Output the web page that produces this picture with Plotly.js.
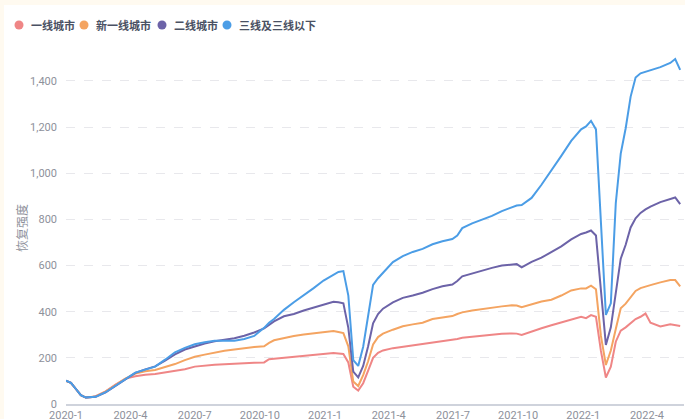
<!DOCTYPE html>
<html>
<head>
<meta charset="utf-8">
<script src="https://cdn.plot.ly/plotly-3.0.1.min.js"></script>
<style>
  html, body { margin: 0; padding: 0; background: #ffffff; }
  #chart { width: 685px; height: 419px; }
</style>
</head>
<body>
<div id="chart"></div>
<script>
// Weekly dates
var dates = [
  '2020-01-01','2020-01-08','2020-01-15','2020-01-22','2020-01-29','2020-02-05','2020-02-12','2020-02-26',
  '2020-03-11','2020-03-25','2020-04-08','2020-04-22','2020-05-06','2020-05-20','2020-06-03','2020-06-17',
  '2020-07-01','2020-07-15','2020-07-29','2020-08-12','2020-08-26','2020-09-09','2020-09-23','2020-10-07',
  '2020-10-14','2020-10-21','2020-11-04','2020-11-18','2020-12-02','2020-12-16','2020-12-30','2021-01-13',
  '2021-01-20','2021-01-27','2021-02-03','2021-02-10','2021-02-17','2021-02-24','2021-03-03','2021-03-10',
  '2021-03-17','2021-03-24','2021-04-07','2021-04-21','2021-05-05','2021-05-19','2021-06-02','2021-06-16',
  '2021-06-30','2021-07-07','2021-07-14','2021-07-28','2021-08-11','2021-08-25','2021-09-08','2021-09-22',
  '2021-09-29','2021-10-06','2021-10-20','2021-11-03','2021-11-17','2021-12-01','2021-12-15','2021-12-29',
  '2022-01-05','2022-01-12','2022-01-19','2022-01-26','2022-02-02','2022-02-09','2022-02-16','2022-02-23',
  '2022-03-02','2022-03-09','2022-03-16','2022-03-23','2022-03-30','2022-04-06','2022-04-20','2022-05-04',
  '2022-05-11','2022-05-18'
];

var seriesNames = ['一线城市', '新一线城市', '二线城市', '三线及三线以下'];

var tier1 = [
  100,92,65,38,28,29,34,55, 84,110,120,127,130,137,145,151,
  162,167,170,172,175,178,179,180, 194,196,200,205,210,214,218,221,
  219,217,180,75,58,90,145,200, 222,232,242,248,254,259,267,272,
  279,282,287,292,297,301,304,306, 305,299,315,328,341,354,366,378,
  372,385,378,230,115,162,270,318, 332,350,368,378,392,352,336,345,
  342,338
];

var newTier1 = [
  100,92,65,38,28,29,33,54, 83,110,132,142,147,160,173,190,
  205,214,224,231,236,243,247,250, 265,276,287,295,301,306,312,316,
  312,307,250,97,78,125,185,258, 290,305,322,337,345,352,368,374,
  381,390,397,405,412,418,423,428, 427,419,432,444,452,470,492,501,
  501,513,497,295,169,232,325,415, 435,465,490,502,510,515,527,537,
  537,510
];

var tier2 = [
  101,92,65,38,28,28,31,50, 78,106,135,150,163,188,215,236,
  250,262,272,278,285,296,310,328, 342,358,380,390,405,418,432,443,
  441,436,330,140,115,165,250,350, 390,413,440,460,470,482,498,510,
  518,533,553,566,576,590,600,605, 606,592,616,634,658,683,713,737,
  743,752,730,480,256,332,485,630, 690,765,805,828,843,855,875,888,
  895,866
];

var tier3 = [
  101,92,65,38,28,28,31,51, 80,108,136,149,162,192,224,243,
  259,268,274,274,274,282,295,330, 352,368,408,441,470,502,535,562,
  572,576,470,190,165,248,378,516, 545,568,615,641,659,672,692,705,
  715,730,762,783,798,815,836,852, 860,862,893,950,1010,1075,1140,1190,
  1203,1227,1190,790,386,436,870,1085, 1195,1332,1415,1433,1440,1445,1460,1478,
  1495,1448
];

var seriesValues = [tier1, newTier1, tier2, tier3];
var seriesColors = ['#ef8686', '#f4a461', '#6c63a8', '#4b9de6'];

var yTitle = '恢复强度';

var traces = seriesValues.map(function (vals, i) {
  return {
    type: 'scatter',
    mode: 'lines',
    x: dates,
    y: vals,
    name: seriesNames[i],
    showlegend: false,
    line: { color: seriesColors[i], width: 2 },
    hoverinfo: 'x+y+name'
  };
});

// Manual legend (circle + label), positioned in page pixels
var plotLeft = 66, plotRight = 684, plotTop = 50, plotBottom = 404;
var pw = plotRight - plotLeft, ph = plotBottom - plotTop;
function px(x) { return (x - plotLeft) / pw; }
function py(y) { return (plotBottom - y) / ph; }

var legendCircleX = [19, 84, 162, 227];
var legendY = 25;

var shapes = [];
var annotations = [];
seriesNames.forEach(function (name, i) {
  shapes.push({
    type: 'circle', xref: 'paper', yref: 'paper',
    xsizemode: 'pixel', ysizemode: 'pixel',
    xanchor: px(legendCircleX[i]), yanchor: py(legendY),
    x0: -4.5, x1: 4.5, y0: -4.5, y1: 4.5,
    fillcolor: seriesColors[i], line: { width: 0 }
  });
  annotations.push({
    xref: 'paper', yref: 'paper',
    x: px(legendCircleX[i] + 10), y: py(legendY),
    xanchor: 'left', yanchor: 'middle',
    text: name, showarrow: false,
    font: { family: 'Noto Sans CJK SC, sans-serif', size: 11, color: '#4a5163', weight: 700 }
  });
});

// y-axis title
annotations.push({
  xref: 'paper', yref: 'paper',
  x: px(22), y: py(228),
  xanchor: 'center', yanchor: 'middle',
  text: yTitle, showarrow: false, textangle: -90,
  font: { family: 'Noto Sans CJK SC, sans-serif', size: 12, color: '#8e919b' }
});

// cream edges of the page
shapes.push({
  type: 'rect', xref: 'paper', yref: 'paper',
  x0: px(0), x1: px(685), y0: py(0), y1: py(5),
  fillcolor: '#fffaf0', line: { width: 0 }, layer: 'below'
});
shapes.push({
  type: 'rect', xref: 'paper', yref: 'paper',
  x0: px(0), x1: px(4), y0: py(419), y1: py(0),
  fillcolor: '#fffaf0', line: { width: 0 }, layer: 'below'
});

var layout = {
  width: 685,
  height: 419,
  margin: { l: plotLeft, r: 685 - plotRight, t: plotTop, b: 419 - plotBottom, pad: 0 },
  paper_bgcolor: '#ffffff',
  plot_bgcolor: '#ffffff',
  showlegend: false,
  font: { family: 'Noto Sans CJK SC, Roboto, sans-serif', color: '#8e919b' },
  xaxis: {
    type: 'date',
    range: ['2020-01-01', '2022-05-23 10:00'],
    tick0: '2020-01-01',
    dtick: 'M3',
    tickformat: '%Y-%-m',
    showgrid: false,
    zeroline: false,
    showline: true,
    linecolor: '#cfd3dc',
    linewidth: 1.5,
    ticks: '',
    tickfont: { family: 'Roboto, sans-serif', size: 11, color: '#8e919b' },
    automargin: false
  },
  yaxis: {
    range: [0, 1534],
    tick0: 0,
    dtick: 200,
    tickformat: ',d',
    showgrid: true,
    gridcolor: '#e8e8ec',
    griddash: 'dash',
    gridwidth: 1,
    zeroline: false,
    showline: false,
    ticks: '',
    ticklabelstandoff: 8,
    tickfont: { family: 'Roboto, sans-serif', size: 11, color: '#8e919b' },
    automargin: false
  },
  shapes: shapes,
  annotations: annotations
};

Plotly.newPlot('chart', traces, layout, { displayModeBar: false, staticPlot: true });
</script>
</body>
</html>
